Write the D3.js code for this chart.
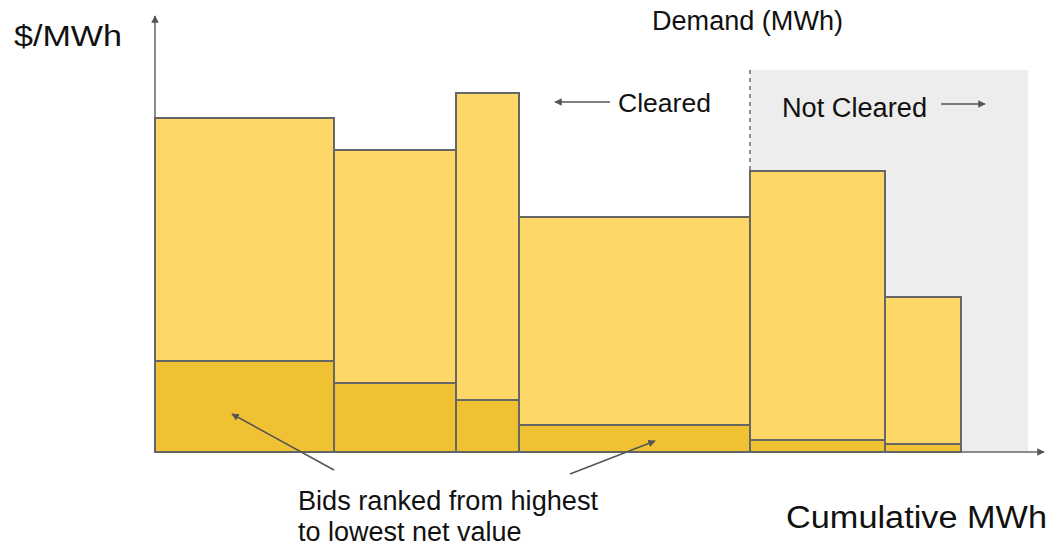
<!DOCTYPE html>
<html>
<head>
<meta charset="utf-8">
<script src="https://cdn.jsdelivr.net/npm/d3@7"></script>
<style>
  body { margin: 0; background: #fff; }
  text { font-family: "Liberation Sans", Arial, sans-serif; fill: #111; }
</style>
</head>
<body>
<div id="vis"></div>
<script>
const FRAME_WIDTH = 1049;
const FRAME_HEIGHT = 548;
const MARGINS = {left: 155, right: 9, top: 18, bottom: 96};

const VIS_WIDTH = FRAME_WIDTH - MARGINS.left - MARGINS.right;
const VIS_HEIGHT = FRAME_HEIGHT - MARGINS.top - MARGINS.bottom;

// bids, ranked from highest to lowest net value
const BIDS = ["Bid 1", "Bid 2", "Bid 3", "Bid 4", "Bid 5", "Bid 6"];
const BID_MWH = [179, 122, 63, 231, 135, 76];      // width of each bid
const BID_PRICE = [334, 302, 359, 235, 281, 155];   // total $/MWh
const BID_NET = [91, 69, 52, 27, 12, 8];            // net value part
const DEMAND = 595;                                  // cleared up to here
const NOT_CLEARED_END = 873;
const NOT_CLEARED_TOP = 382;

const X_MAX = 885;
const Y_MAX = 434;

const LIGHT = "#fdd868";
const DARK = "#f0c132";
const EDGE = "#666666";

const SVG = d3.select("#vis")
  .append("svg")
    .attr("width", FRAME_WIDTH)
    .attr("height", FRAME_HEIGHT);

const X_SCALE = d3.scaleLinear()
  .domain([0, X_MAX])
  .range([MARGINS.left, MARGINS.left + VIS_WIDTH]);

const Y_SCALE = d3.scaleLinear()
  .domain([0, Y_MAX])
  .range([MARGINS.top + VIS_HEIGHT, MARGINS.top]);

// cumulative start of each bid
let run = 0;
const data = BIDS.map((b, i) => {
  const d = {name: b, x0: run, x1: run + BID_MWH[i], price: BID_PRICE[i], net: BID_NET[i]};
  run += BID_MWH[i];
  return d;
});

const defs = SVG.append("defs");
defs.append("marker")
    .attr("id", "arrow")
    .attr("viewBox", "0 0 10 10")
    .attr("refX", 9).attr("refY", 5)
    .attr("markerWidth", 5).attr("markerHeight", 5)
    .attr("orient", "auto-start-reverse")
  .append("path")
    .attr("d", "M0,0 L10,5 L0,10 z")
    .attr("fill", "#555");

// not cleared region
SVG.append("rect")
    .attr("x", X_SCALE(DEMAND))
    .attr("y", Y_SCALE(NOT_CLEARED_TOP))
    .attr("width", X_SCALE(NOT_CLEARED_END) - X_SCALE(DEMAND))
    .attr("height", Y_SCALE(0) - Y_SCALE(NOT_CLEARED_TOP))
    .attr("fill", "#ededed");

// demand line
SVG.append("line")
    .attr("x1", X_SCALE(DEMAND)).attr("x2", X_SCALE(DEMAND))
    .attr("y1", Y_SCALE(NOT_CLEARED_TOP)).attr("y2", Y_SCALE(0))
    .attr("stroke", "#555")
    .attr("stroke-width", 1.3)
    .attr("stroke-dasharray", "4,4");

// total bar
SVG.selectAll(".top")
  .data(data)
  .enter()
  .append("rect")
    .attr("class", "top")
    .attr("x", d => X_SCALE(d.x0))
    .attr("y", d => Y_SCALE(d.price))
    .attr("width", d => X_SCALE(d.x1) - X_SCALE(d.x0))
    .attr("height", d => Y_SCALE(0) - Y_SCALE(d.price))
    .attr("fill", LIGHT)
    .attr("stroke", EDGE)
    .attr("stroke-width", 2);

// net value part
SVG.selectAll(".net")
  .data(data)
  .enter()
  .append("rect")
    .attr("class", "net")
    .attr("x", d => X_SCALE(d.x0))
    .attr("y", d => Y_SCALE(d.net))
    .attr("width", d => X_SCALE(d.x1) - X_SCALE(d.x0))
    .attr("height", d => Y_SCALE(0) - Y_SCALE(d.net))
    .attr("fill", DARK)
    .attr("stroke", EDGE)
    .attr("stroke-width", 2);

// axes with arrows
SVG.append("line")
    .attr("x1", X_SCALE(0)).attr("y1", Y_SCALE(0))
    .attr("x2", X_SCALE(0)).attr("y2", Y_SCALE(Y_MAX) - 2)
    .attr("stroke", "#666").attr("stroke-width", 1.5)
    .attr("marker-end", "url(#arrow)");
SVG.append("line")
    .attr("x1", X_SCALE(0)).attr("y1", Y_SCALE(0))
    .attr("x2", X_SCALE(X_MAX) + 4).attr("y2", Y_SCALE(0))
    .attr("stroke", "#666").attr("stroke-width", 1.5)
    .attr("marker-end", "url(#arrow)");

// labels: x, baseline, size, width, text
const labels = [
  [14, 46, 30, 108, "$/MWh"],
  [786, 528, 31, 261, "Cumulative MWh"],
  [652, 30, 27, 191, "Demand (MWh)"],
  [618, 112, 26, 93, "Cleared"],
  [782, 117, 27, 145, "Not Cleared"],
  [298, 510, 27, 300, "Bids ranked from highest"],
  [298, 541, 27, null, "to lowest net value"]
];
SVG.selectAll(".lab")
  .data(labels)
  .enter()
  .append("text")
    .attr("x", d => d[0])
    .attr("y", d => d[1])
    .attr("font-size", d => d[2])
    .attr("textLength", d => d[3])
    .attr("lengthAdjust", "spacingAndGlyphs")
    .text(d => d[4]);

// annotation arrows
const arrows = [
  [610, 102, 555, 102],
  [941, 104, 985, 104],
  [334, 470, 232, 414],
  [570, 474, 655, 441]
];
SVG.selectAll(".ann")
  .data(arrows)
  .enter()
  .append("line")
    .attr("x1", d => d[0]).attr("y1", d => d[1])
    .attr("x2", d => d[2]).attr("y2", d => d[3])
    .attr("stroke", "#555").attr("stroke-width", 1.5)
    .attr("marker-end", "url(#arrow)");
</script>
</body>
</html>
